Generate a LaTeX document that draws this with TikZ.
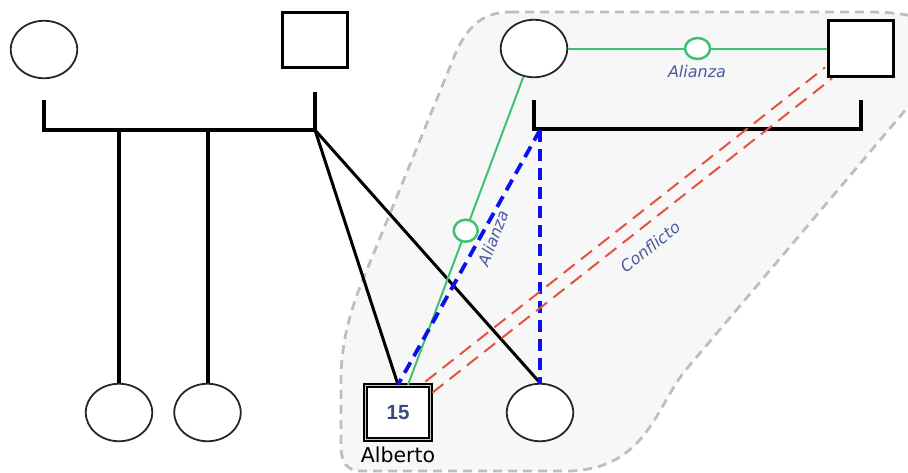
\documentclass[tikz,border=0pt]{standalone}
\usepackage{fontspec}
\setmainfont{DejaVu Sans}
\newfontfamily\numfont{Liberation Sans}
\usetikzlibrary{calc,shapes.geometric}

\definecolor{allygreen}{HTML}{3FC172}
\definecolor{bondblue}{HTML}{0A10EE}
\definecolor{conflictred}{HTML}{E4533F}
\definecolor{labelblue}{HTML}{4A5A9A}
\definecolor{numblue}{HTML}{3B4A7E}
\definecolor{zonefill}{HTML}{F7F7F7}
\definecolor{zoneline}{HTML}{BEBEBE}

\begin{document}
\begin{tikzpicture}[x=1pt,y=-1pt,
  female/.style={ellipse, draw=black!85, line width=1.8pt, fill=white,
    minimum width=66.5pt, minimum height=57.5pt, inner sep=0pt},
  male/.style={rectangle, draw=black, line width=3pt, fill=white,
    minimum width=65pt, minimum height=55pt, inner sep=0pt},
  index/.style={rectangle, draw=black, line width=1.6pt, double=black!20,
    double distance=1.4pt, fill=white, minimum width=65pt, minimum height=54pt,
    inner sep=0pt},
  kinbar/.style={line width=4pt, line join=miter},
  descent/.style={line width=3pt},
  alliance/.style={draw=allygreen, line width=2pt},
  tie/.style={ellipse, draw=allygreen, line width=2.5pt, fill=white, inner sep=0pt},
  bond/.style={draw=bondblue, line width=3.8pt, dash pattern=on 12pt off 7pt},
  conflict/.style={draw=conflictred, line width=2pt, dash pattern=on 14pt off 8pt},
  rel/.style={text=labelblue, font=\fontsize{16}{18}\selectfont\itshape},
  zone/.style={fill=zonefill, draw=zoneline, line width=2.8pt,
    dash pattern=on 9pt off 6pt}
]
\useasboundingbox (0,0) rectangle (908,472);
\clip (0,0) rectangle (908,472);

% highlighted family zone
\path[zone] (510,12) -- (868,12) .. controls (965,12) and (955,52) .. (908,107)
  -- (684,372) .. controls (655,410) and (645,468) .. (570,471)
  -- (362,471) .. controls (346,471) and (341,462) .. (341,445)
  -- (341,380) .. controls (341,340) and (352,305) .. (366,272)
  -- (452,62) .. controls (464,30) and (480,12) .. (510,12) -- cycle;

% first couple and their children
\node[female] (m1) at (44,49.5) {};
\node[male]   (f1) at (315,40) {};
\node[female] (c1) at (119,412.5) {};
\node[female] (c2) at (207.5,412.5) {};

% second couple and their children
\node[female] (m2) at (534,48.5) {};
\node[male,minimum height=56pt] (f2) at (861,48.5) {};
\node[index] (alb) at (398,412.5) {\numfont\bfseries\fontsize{20.5}{22}\selectfont\color{numblue}15};
\node[font=\fontsize{20.5}{22}\selectfont] (albname) at (398,455) {Alberto};
\node[female] (c4) at (540,412.5) {};

% marriage bars
\coordinate (b1l) at (44,100);
\coordinate (b1r) at (315,92);
\coordinate (j1) at (315,130);
\coordinate (k1) at (119,130);
\coordinate (k2) at (207.5,130);
\draw[kinbar] (b1l) -- (44,130) -- (j1) -- (b1r);
\draw[kinbar] (k1) -- (c1.north);
\draw[kinbar] (k2) -- (c2.north);

\coordinate (b2l) at (534,100);
\coordinate (b2r) at (861,100);
\coordinate (j2) at (540,130);
\draw[kinbar] (b2l) -- (534,129) -- (861,129) -- (b2r);

% descent lines
\draw[descent] (j1) -- (alb.north);
\draw[descent] (j1) -- (c4.north);

% alliances
\draw[alliance] (m2) -- (f2) node[tie, pos=0.5, minimum width=25pt, minimum height=21pt] (t1) {};
\draw[alliance] (m2) -- ([xshift=10pt]alb.north) node[tie, pos=0.5, minimum width=24pt, minimum height=22pt] (t2) {};
\node[rel] (l1) at (697,72) {Alianza};
\node[rel, rotate=69] (l2) at (493,238) {Alianza};

% close bonds
\draw[bond] (j2) -- (alb.north);
\draw[bond] (j2) -- (c4.north);

% conflict
\draw[conflict] ($(alb.north east)+(-6,-3)$) -- ($(f2.south west)+(-2,-10.5)$);
\draw[conflict] ($(alb.north east)+(1,8)$) -- ($(f2.south west)+(5,0.5)$);
\node[rel, rotate=38] (l3) at (650,247) {Conflicto};
\end{tikzpicture}
\end{document}
